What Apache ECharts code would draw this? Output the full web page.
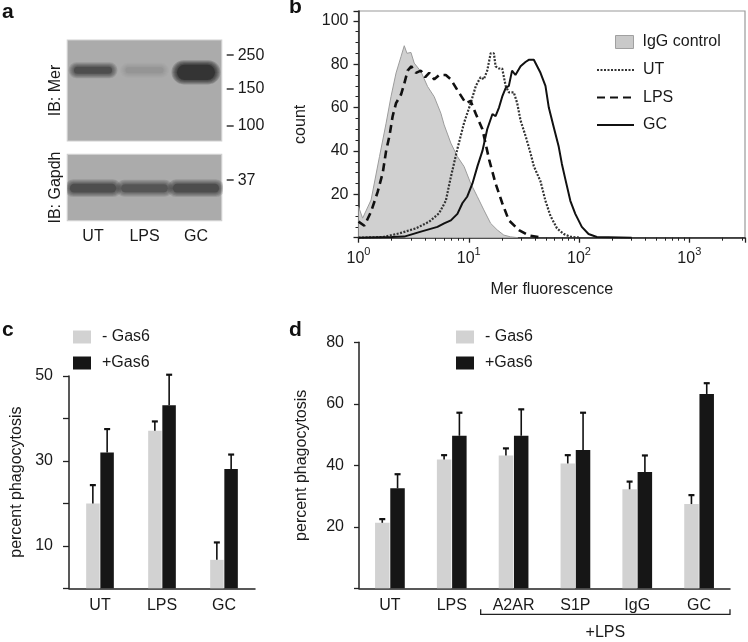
<!DOCTYPE html>
<html>
<head>
<meta charset="utf-8">
<script src="https://cdn.jsdelivr.net/npm/echarts@6/dist/echarts.min.js"></script>
<style>
  html, body { margin: 0; padding: 0; background: #ffffff; }
  #chart { width: 748px; height: 642px; }
</style>
</head>
<body>
<div id="chart"></div>
<script>
// ---------------- Panel a: western blot ----------------
const lanes = ['UT', 'LPS', 'GC'];
const merMarkerKDa = ['250', '150', '100'];
const merMarkerPos = [15, 48, 85];          // migration, % of gel height
const gapdhMarkerKDa = ['37'];
const gapdhMarkerPos = [39];
const merBandPos = [30, 30, 32];
const merDensity = [0.62, 0.1, 0.97];
const merThickness = [7, 6, 15];
const gapdhBandPos = [51, 51, 51];
const gapdhDensity = [0.62, 0.55, 0.6];
const gapdhThickness = [13, 12, 13];

// ---------------- Panel b: flow cytometry histograms ----------------
const fluorescenceTicks = [1, 10, 100, 1000];
const iggControl = [[1.0,14.3],[1.09,9],[1.3,17.4],[1.55,37.4],[1.78,52.8],[1.97,65],[2.19,75.9],[2.43,83.5],[2.6,88.5],[2.75,85],[2.99,85.4],[3.2,80.5],[3.68,76.6],[4.23,69.7],[4.86,65],[5.58,57.4],[5.98,52],[6.88,43.6],[7.89,37.4],[9.07,32.8],[10.4,25.1],[11.97,18.9],[13.7,12.8],[15.8,6.6],[18.1,3.6],[20.8,1.2],[23.9,0.4],[28,0]];
const utCounts = [[1,0],[1.66,0.3],[2.35,2],[3.32,4.3],[4.38,7.4],[5.39,11.3],[6.19,17],[6.88,28],[7.89,41],[9.07,53],[10.4,62],[11.6,70],[12.8,74],[13.7,73],[14.7,77],[15.8,85],[16.9,85],[17.5,79],[18.8,78],[20.1,78],[21.6,70],[23.1,67],[25.6,67],[27.5,62],[29.5,54],[32.7,47],[36.3,39],[38.9,33],[44.7,26],[49.6,17],[55.1,10],[63.1,4.3],[72.6,1.7],[83.4,0.5],[100,0]];
const lpsCounts = [[1,7.4],[1.13,5.5],[1.3,12],[1.49,21],[1.66,30],[1.78,40],[1.91,47],[2.04,56],[2.19,62],[2.43,66],[2.6,71],[2.79,77],[3.01,79],[3.32,76],[3.68,77],[4.03,74],[4.38,76],[4.86,73],[5.39,75],[6.19,75],[6.88,73],[7.89,68],[9.4,62],[10.4,63],[11.6,57],[13.3,50],[15.3,36],[17.5,25],[20.1,16],[23.1,8],[28.5,3.5],[35,1],[46,0]];
const gcCounts = [[1,0],[2,0.3],[2.6,0.5],[3.68,2.8],[5.2,5],[5.98,6.6],[6.88,8],[7.89,11],[8.77,16],[9.7,19],[10.8,25],[12.0,33],[13.3,40],[14.7,50],[16.4,57],[17.5,56],[18.8,60],[20.1,65],[21.6,69],[23.1,70],[24.7,77],[26.5,75],[29.5,79],[32.7,81],[35,82],[38.9,82],[44.7,76],[49.6,70],[53.2,60],[58.9,51],[65.4,42],[69.9,34],[75.1,27],[83.4,17],[92.5,11],[106,5],[122,1.7],[145,0.3],[300,0]];

// ---------------- Panel c ----------------
const cCategories = ['UT', 'LPS', 'GC'];
const cMinusGas6 = [20, 37.1, 6.7];
const cMinusGas6Err = [4.3, 2.2, 4.1];
const cPlusGas6 = [32, 43.1, 28.1];
const cPlusGas6Err = [5.5, 7.2, 3.4];

// ---------------- Panel d ----------------
const dCategories = ['UT', 'LPS', 'A2AR', 'S1P', 'IgG', 'GC'];
const dMinusGas6 = [21.3, 41.9, 43.2, 40.6, 32.2, 27.4];
const dMinusGas6Err = [1.2, 1.4, 2.3, 2.7, 2.5, 2.9];
const dPlusGas6 = [32.5, 49.6, 49.6, 45.0, 37.8, 63.2];
const dPlusGas6Err = [4.6, 7.5, 8.6, 12.1, 5.4, 3.5];
const lpsGroup = ['A2AR', 'GC'];

// ------------------------------------------------------------
const FONT = 'Liberation Sans, Arial, Helvetica, sans-serif';
const TXT = '#1a1a1a';
const GRAY = '#d2d2d2';
const BLACK = '#161616';

// soft-edged blot band: a core plus a few slightly wider, fainter halos
function bandRender(span) {
  return function (params, api) {
    const lane = api.value(0), pos = api.value(1), dens = api.value(2), thick = api.value(3);
    const c = api.coord([lane, pos]);
    const bw = api.size([1, 0])[0] * span;
    const h = Math.abs(api.size([0, thick])[1]);
    const children = [];
    const layers = 5;
    for (let k = layers; k >= 0; k--) {
      const grow = k * 0.9;
      const w = bw + grow * 2.4, hh = h + grow * 2;
      const a = k === 0 ? dens * 0.5 : dens * 0.2;
      children.push({
        type: 'rect',
        shape: { x: c[0] - w / 2, y: c[1] - hh / 2, width: w, height: hh, r: hh / 2 },
        style: { fill: 'rgba(28,28,28,' + a.toFixed(3) + ')' }
      });
    }
    return { type: 'group', children: children };
  };
}

function errRender(barW, side) {
  return function (params, api) {
    const base = api.coord([api.value(0), api.value(1)]);
    const top = api.coord([api.value(0), api.value(1) + api.value(2)]);
    const x = base[0] + side * (barW / 2 + 0.4);
    return {
      type: 'group',
      children: [
        { type: 'line', shape: { x1: x, y1: base[1], x2: x, y2: top[1] }, style: { stroke: '#111', lineWidth: 1.6 } },
        { type: 'line', shape: { x1: x - 3, y1: top[1], x2: x + 3, y2: top[1] }, style: { stroke: '#111', lineWidth: 2.2 } }
      ]
    };
  };
}

function bracketRender(params, api) {
  const bw = api.size([1, 0])[0];
  const a = api.coord([api.value(0), 0]);
  const b = api.coord([api.value(1), 0]);
  const x1 = a[0] - bw / 2 - 2, x2 = b[0] + bw / 2;
  const y = a[1] + 26;
  return {
    type: 'group',
    children: [
      { type: 'polyline', shape: { points: [[x1, y - 5], [x1, y], [x2, y], [x2, y - 5]] },
        style: { stroke: '#222', lineWidth: 1.3, fill: null } },
      { type: 'text', x: (x1 + x2) / 2, y: y + 18,
        style: { text: '+LPS', fill: TXT, font: '16px ' + FONT, align: 'center', verticalAlign: 'middle' } }
    ]
  };
}

const minorTickPositions = [];
[1, 10, 100, 1000].forEach(function (d) {
  for (let k = 2; k <= 9; k++) {
    if (d * k <= 3200) minorTickPositions.push(Math.log10(d * k));
  }
});

const legendText = { color: TXT, fontSize: 16, fontFamily: FONT, lineHeight: 16 };

const option = {
  animation: false,
  textStyle: { fontFamily: FONT, color: TXT },
  title: [
    { text: 'a', left: 2, top: 2, padding: 0, textStyle: { fontSize: 21, fontWeight: 'bold', color: '#111', fontFamily: FONT } },
    { text: 'b', left: 289, top: -3, padding: 0, textStyle: { fontSize: 21, fontWeight: 'bold', color: '#111', fontFamily: FONT } },
    { text: 'c', left: 2, top: 320, padding: 0, textStyle: { fontSize: 21, fontWeight: 'bold', color: '#111', fontFamily: FONT } },
    { text: 'd', left: 289, top: 320, padding: 0, textStyle: { fontSize: 21, fontWeight: 'bold', color: '#111', fontFamily: FONT } }
  ],
  legend: [
    { data: [{ name: 'IgG control', icon: 'rect', itemStyle: { color: '#c9c9c9', borderColor: '#a0a0a0', borderWidth: 1 } }],
      left: 615, top: 34, itemWidth: 18, itemHeight: 13, padding: 0,
      textStyle: Object.assign({ padding: [0, 0, 0, 4] }, legendText) },
    { data: ['UT', 'LPS', 'GC'], orient: 'vertical', left: 596, top: 62, itemWidth: 37, itemHeight: 14,
      itemGap: 11.5, padding: 0, textStyle: Object.assign({ padding: [0, 0, 0, 4] }, legendText) },
    { data: ['- Gas6', '+Gas6'], orient: 'vertical', left: 73, top: 329, itemWidth: 18, itemHeight: 13,
      itemGap: 10, padding: 0, icon: 'rect', textStyle: Object.assign({ padding: [0, 0, 0, 6] }, legendText) },
    { data: ['- Gas6', '+Gas6'], orient: 'vertical', left: 456, top: 329, itemWidth: 18, itemHeight: 13,
      itemGap: 10, padding: 0, icon: 'rect', textStyle: Object.assign({ padding: [0, 0, 0, 6] }, legendText) }
  ],
  grid: [
    { left: 67.3, top: 40, width: 154.4, height: 101, show: true, backgroundColor: '#ababab', borderColor: '#cfcfcf', borderWidth: 1.2 },
    { left: 67.3, top: 154.3, width: 154.4, height: 66.4, show: true, backgroundColor: '#ababab', borderColor: '#cfcfcf', borderWidth: 1.2 },
    { left: 358.5, top: 11, width: 386.5, height: 226.7, show: true, borderColor: '#9a9a9a', borderWidth: 1.2 },
    { left: 69, top: 376, width: 186, height: 212.3 },
    { left: 359, top: 342.3, width: 371, height: 246 }
  ],
  xAxis: [
    { gridIndex: 0, type: 'category', data: lanes, show: false },
    { gridIndex: 1, type: 'category', data: lanes, axisLine: { show: false }, axisTick: { show: false },
      axisLabel: { color: TXT, fontSize: 16, margin: 8 } },
    { gridIndex: 2, type: 'log', logBase: 10, min: 1, max: 3200, position: 'bottom',
      axisLine: { lineStyle: { color: '#222', width: 1.5 } },
      axisTick: { length: 5, lineStyle: { color: '#222', width: 1.3 } },
      splitLine: { show: false },
      axisLabel: {
        margin: 9, color: TXT,
        formatter: function (v) {
          const l = Math.log10(v), e = Math.round(l);
          if (Math.abs(l - e) > 1e-6 || fluorescenceTicks.indexOf(Math.pow(10, e)) < 0) return '';
          return '{b|10}{s|' + e + '}';
        },
        rich: {
          b: { fontSize: 16, color: TXT, fontFamily: FONT, lineHeight: 20, verticalAlign: 'bottom' },
          s: { fontSize: 11, color: TXT, fontFamily: FONT, lineHeight: 11, verticalAlign: 'top' }
        }
      },
      name: 'Mer fluorescence', nameLocation: 'middle', nameGap: 44,
      nameTextStyle: { fontSize: 16, color: TXT } },
    { gridIndex: 2, type: 'value', min: 0, max: Math.log10(3200), position: 'bottom',
      axisLine: { show: false }, axisLabel: { show: false }, splitLine: { show: false },
      axisTick: { show: true, customValues: minorTickPositions, length: 3, lineStyle: { color: '#222', width: 1 } } },
    { gridIndex: 3, type: 'category', data: cCategories,
      axisLine: { lineStyle: { color: '#222', width: 1.5 } }, axisTick: { show: false },
      axisLabel: { color: TXT, fontSize: 16, margin: 9 } },
    { gridIndex: 4, type: 'category', data: dCategories,
      axisLine: { lineStyle: { color: '#222', width: 1.5 } }, axisTick: { show: false },
      axisLabel: { color: TXT, fontSize: 16, margin: 9 } }
  ],
  yAxis: [
    { gridIndex: 0, type: 'value', min: 0, max: 100, inverse: true, position: 'right', offset: 5,
      axisLine: { show: false }, splitLine: { show: false },
      axisTick: { show: true, customValues: merMarkerPos, length: 7, lineStyle: { color: '#333', width: 1.5 } },
      axisLabel: { customValues: merMarkerPos, margin: 11, color: TXT, fontSize: 16,
        formatter: function (v) { const i = merMarkerPos.indexOf(v); return i >= 0 ? merMarkerKDa[i] : ''; } } },
    { gridIndex: 0, type: 'value', min: 0, max: 100, position: 'left',
      axisLine: { show: false }, axisTick: { show: false }, axisLabel: { show: false }, splitLine: { show: false },
      name: 'IB: Mer', nameLocation: 'middle', nameRotate: 90, nameGap: 4, nameTextStyle: { fontSize: 16, color: TXT } },
    { gridIndex: 1, type: 'value', min: 0, max: 100, inverse: true, position: 'right', offset: 5,
      axisLine: { show: false }, splitLine: { show: false },
      axisTick: { show: true, customValues: gapdhMarkerPos, length: 7, lineStyle: { color: '#333', width: 1.5 } },
      axisLabel: { customValues: gapdhMarkerPos, margin: 11, color: TXT, fontSize: 16,
        formatter: function (v) { const i = gapdhMarkerPos.indexOf(v); return i >= 0 ? gapdhMarkerKDa[i] : ''; } } },
    { gridIndex: 1, type: 'value', min: 0, max: 100, position: 'left',
      axisLine: { show: false }, axisTick: { show: false }, axisLabel: { show: false }, splitLine: { show: false },
      name: 'IB: Gapdh', nameLocation: 'middle', nameRotate: 90, nameGap: 4, nameTextStyle: { fontSize: 16, color: TXT } },
    { gridIndex: 2, type: 'value', min: 0, max: 104.5, interval: 20,
      axisLine: { show: true, lineStyle: { color: '#222', width: 1.5 } },
      axisTick: { show: true, length: 5, lineStyle: { color: '#222', width: 1.3 } },
      minorTick: { show: true, splitNumber: 4, length: 3, lineStyle: { color: '#222', width: 1 } },
      splitLine: { show: false },
      axisLabel: { margin: 10, color: TXT, fontSize: 16,
        formatter: function (v) { return (v > 0 && v % 20 === 0) ? String(v) : ''; } },
      name: 'count', nameLocation: 'middle', nameRotate: 90, nameGap: 50, nameTextStyle: { fontSize: 16, color: TXT } },
    { gridIndex: 3, type: 'value', min: 0, max: 50, interval: 10,
      axisLine: { show: true, lineStyle: { color: '#222', width: 1.5 } },
      axisTick: { show: true, length: 6, lineStyle: { color: '#222', width: 1.3 } },
      splitLine: { show: false },
      axisLabel: { margin: 16, color: TXT, fontSize: 16,
        formatter: function (v) { return (v % 20 === 10) ? String(v) : ''; } },
      name: 'percent phagocytosis', nameLocation: 'middle', nameRotate: 90, nameGap: 44,
      nameTextStyle: { fontSize: 16, color: TXT } },
    { gridIndex: 4, type: 'value', min: 0, max: 80, interval: 20,
      axisLine: { show: true, lineStyle: { color: '#222', width: 1.5 } },
      axisTick: { show: true, length: 5, lineStyle: { color: '#222', width: 1.3 } },
      splitLine: { show: false },
      axisLabel: { margin: 15, color: TXT, fontSize: 16,
        formatter: function (v) { return v > 0 ? String(v) : ''; } },
      name: 'percent phagocytosis', nameLocation: 'middle', nameRotate: 90, nameGap: 49,
      nameTextStyle: { fontSize: 16, color: TXT } }
  ],
  series: [
    // blot bands
    { type: 'custom', xAxisIndex: 0, yAxisIndex: 0, silent: true, clip: true, renderItem: bandRender(0.74),
      data: lanes.map(function (l, i) { return [i, merBandPos[i], merDensity[i], merThickness[i]]; }) },
    { type: 'custom', xAxisIndex: 1, yAxisIndex: 2, silent: true, clip: true, renderItem: bandRender(0.9),
      data: lanes.map(function (l, i) { return [i, gapdhBandPos[i], gapdhDensity[i], gapdhThickness[i]]; }) },
    // histograms
    { name: 'IgG control', type: 'line', xAxisIndex: 2, yAxisIndex: 4, data: iggControl, symbol: 'none', z: 1,
      lineStyle: { color: '#9c9c9c', width: 1 }, areaStyle: { color: '#d0d0d0', opacity: 1 },
      itemStyle: { color: '#c9c9c9' } },
    { name: 'UT', type: 'line', xAxisIndex: 2, yAxisIndex: 4, data: utCounts, symbol: 'none', z: 3,
      lineStyle: { color: '#333', width: 2.2, type: [2, 1.5] },
      itemStyle: { color: 'rgba(0,0,0,0)', borderWidth: 0, borderColor: 'rgba(0,0,0,0)' } },
    { name: 'LPS', type: 'line', xAxisIndex: 2, yAxisIndex: 4, data: lpsCounts, symbol: 'none', z: 4,
      lineStyle: { color: '#111', width: 2.6, type: [8, 5] },
      itemStyle: { color: 'rgba(0,0,0,0)', borderWidth: 0, borderColor: 'rgba(0,0,0,0)' } },
    { name: 'GC', type: 'line', xAxisIndex: 2, yAxisIndex: 4, data: gcCounts, symbol: 'none', z: 5,
      lineStyle: { color: '#111', width: 2 },
      itemStyle: { color: 'rgba(0,0,0,0)', borderWidth: 0, borderColor: 'rgba(0,0,0,0)' } },
    // panel c
    { name: '- Gas6', type: 'bar', xAxisIndex: 4, yAxisIndex: 5, data: cMinusGas6, barWidth: 13.5, barGap: '5%',
      itemStyle: { color: GRAY } },
    { name: '+Gas6', type: 'bar', xAxisIndex: 4, yAxisIndex: 5, data: cPlusGas6, barWidth: 13.5, barGap: '5%',
      itemStyle: { color: BLACK } },
    { type: 'custom', xAxisIndex: 4, yAxisIndex: 5, silent: true, z: 5, renderItem: errRender(13.5, -1),
      data: cMinusGas6.map(function (v, i) { return [i, v, cMinusGas6Err[i]]; }) },
    { type: 'custom', xAxisIndex: 4, yAxisIndex: 5, silent: true, z: 5, renderItem: errRender(13.5, 1),
      data: cPlusGas6.map(function (v, i) { return [i, v, cPlusGas6Err[i]]; }) },
    // panel d
    { name: '- Gas6', type: 'bar', xAxisIndex: 5, yAxisIndex: 6, data: dMinusGas6, barWidth: 14.5, barGap: '5%',
      itemStyle: { color: GRAY } },
    { name: '+Gas6', type: 'bar', xAxisIndex: 5, yAxisIndex: 6, data: dPlusGas6, barWidth: 14.5, barGap: '5%',
      itemStyle: { color: BLACK } },
    { type: 'custom', xAxisIndex: 5, yAxisIndex: 6, silent: true, z: 5, renderItem: errRender(14.5, -1),
      data: dMinusGas6.map(function (v, i) { return [i, v, dMinusGas6Err[i]]; }) },
    { type: 'custom', xAxisIndex: 5, yAxisIndex: 6, silent: true, z: 5, renderItem: errRender(14.5, 1),
      data: dPlusGas6.map(function (v, i) { return [i, v, dPlusGas6Err[i]]; }) },
    { type: 'custom', xAxisIndex: 5, yAxisIndex: 6, silent: true, clip: false, renderItem: bracketRender,
      data: [[dCategories.indexOf(lpsGroup[0]), dCategories.indexOf(lpsGroup[1])]] }
  ]
};

const chart = echarts.init(document.getElementById('chart'), null, { renderer: 'canvas' });
chart.setOption(option);
</script>
</body>
</html>
